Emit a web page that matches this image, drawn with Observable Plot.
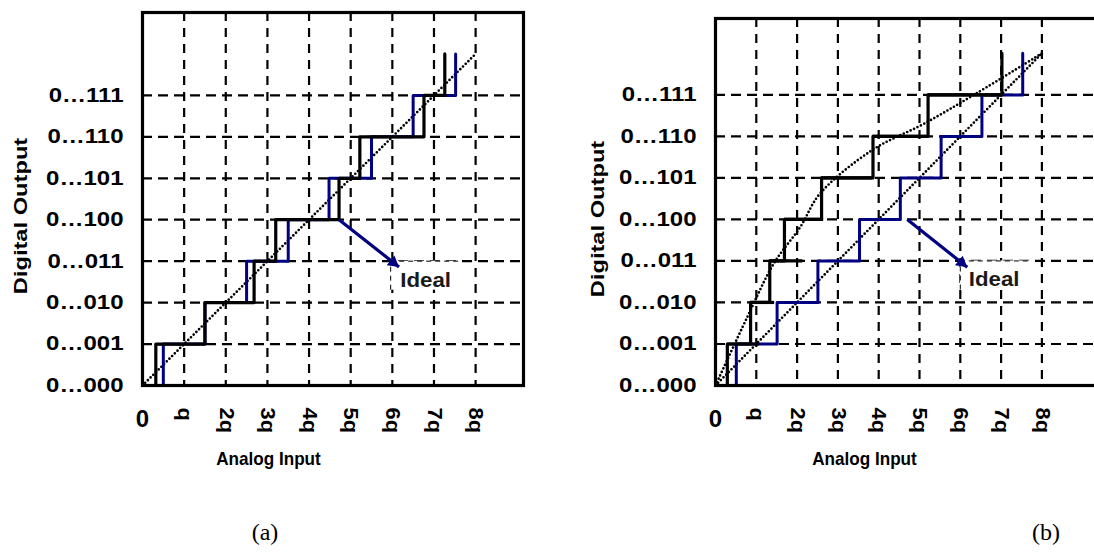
<!DOCTYPE html>
<html><head><meta charset="utf-8">
<script src="https://cdn.jsdelivr.net/npm/d3@7"></script>
<script src="https://cdn.jsdelivr.net/npm/@observablehq/plot@0.6"></script>
<style>
html,body{margin:0;padding:0;background:#fff;width:1094px;height:557px;overflow:hidden;}
#wrap{position:relative;width:1094px;height:557px;}
.panel{position:absolute;top:0;height:500px;overflow:hidden;}
.cap{position:absolute;font-family:"Liberation Serif",serif;font-size:24px;transform:translateX(-50%);}
</style></head><body>
<div id="wrap">
  <div class="panel" id="pa" style="left:0;width:547px"></div>
  <div class="panel" id="pb" style="left:547px;width:547px"></div>
  <div class="cap" style="left:265px;top:519px">(a)</div>
  <div class="cap" style="left:1046px;top:519px">(b)</div>
</div>
<script>
// ---- shared axis data ----
const codes = [0, 1, 2, 3, 4, 5, 6, 7];
const codeLabels = ["0…000", "0…001", "0…010", "0…011", "0…100", "0…101", "0…110", "0…111"];
const xTicks = [1, 2, 3, 4, 5, 6, 7, 8];
const xTickLabels = ["q", "2q", "3q", "4q", "5q", "6q", "7q", "8q"];
const xZeroLabel = ["0"];
const xTitle = ["Analog Input"];
const yTitle = ["Digital Output"];
const idealText = ["Ideal"];
const topCode = 8;

// ---- panel (a): transition points (in q) ----
const idealRiseA  = [0.50, 1.50, 2.50, 3.50, 4.48, 5.50, 6.50, 7.52];
const actualRiseA = [0.32, 1.50, 2.68, 3.20, 4.72, 5.22, 6.76, 7.26];
const diagA = [{x: 0, y: 0}, {x: 8, y: 8}];
const arrowA = [{x1: 4.72, y1: 4, x2: 6.16, y2: 2.86}];
const boxA = [{x1: 5.96, x2: 7.68, y1: 2.30, y2: 3.0}];
const labelA = [{x: 6.8, y: 2.55}];

// ---- panel (b) ----
const idealRiseB  = [0.51, 1.51, 2.51, 3.53, 4.53, 5.53, 6.53, 7.53];
const actualRiseB = [0.29, 0.86, 1.33, 1.69, 2.60, 3.86, 5.21, 7.02];
const actualTreadEndB = [1.08, 1.45, 2.14, 2.65, 3.86, 5.21, 7.02]; // end of each flat (codes 1..7)
const diagB = [{x: 0, y: 0}, {x: 8, y: 8}];
const curveBx = [0, 0.78, 1.43, 2.08, 2.56, 3.84, 5.12, 6.40, 8.0];
const curveBy = [0, 1.65, 2.94, 3.82, 4.62, 5.67, 6.31, 7.04, 8.0];
const arrowB = [{x1: 4.70, y1: 4, x2: 6.17, y2: 2.85}];
const boxB = [{x1: 6.0, x2: 7.72, y1: 2.30, y2: 3.0}];
const labelB = [{x: 6.83, y: 2.56}];

const NAVY = "#000080";
const HEIGHT = 500, MB = 115;

function stairs(rise) {
  const pts = [{x: rise[0], y: 0}];
  rise.forEach((r, i) => { pts.push({x: r, y: i}); pts.push({x: r, y: i + 1}); });
  pts.push({x: rise[rise.length - 1], y: topCode});
  return pts;
}

function stretchEl(t, factor) {
  const L = t.getComputedTextLength();
  t.setAttribute("textLength", (L * factor).toFixed(1));
  t.setAttribute("lengthAdjust", "spacingAndGlyphs");
}
function stretchGroup(svg, label, factor) {
  svg.querySelectorAll(`g[aria-label="${label}"] text`).forEach(t => stretchEl(t, factor));
}
function stretchText(svg, content, factor) {
  svg.querySelectorAll("text").forEach(t => { if (t.textContent === content) stretchEl(t, factor); });
}

function makePanel(p) {
  const {width, marginLeft, marginRight, marginTop, xMax, yMax, idealRise, actualRise, treadEnd, diag, curve, arrow, box, label, xTitleDx, yTitleX} = p;
  // pixel geometry of arrow direction (for the filled head)
  const kx = (width - marginLeft - marginRight) / xMax, ky = (HEIGHT - marginTop - MB) / yMax;
  const vx = (arrow[0].x2 - arrow[0].x1) * kx, vy = -(arrow[0].y2 - arrow[0].y1) * ky;
  const len = Math.hypot(vx, vy), ux = vx / len, uy = vy / len;
  const ang = Math.atan2(vx, -vy) * 180 / Math.PI;
  const headR = 4.6, tipOff = 2 * Math.sqrt(Math.PI * headR * headR / (3 * Math.sqrt(3)));
  const dots = {stroke: "black", strokeWidth: 2.7, strokeDasharray: "0,3.8", strokeLinecap: "round"};
  const marks = [
    Plot.ruleX(xTicks, {stroke: "black", strokeWidth: 2.2, strokeDasharray: "9,7"}),
    Plot.ruleY(codes.slice(1), {stroke: "black", strokeWidth: 2.2, strokeDasharray: "10,6"}),
    Plot.rect(box, {x1: "x1", x2: "x2", y1: "y1", y2: "y2", fill: "white"}),
    Plot.ruleY(box, {y: "y2", x1: "x1", x2: "x2", stroke: "black", strokeWidth: 1, strokeDasharray: "5,4"}),
    Plot.ruleX(box, {x: "x1", y1: "y1", y2: "y2", stroke: "black", strokeWidth: 1, strokeDasharray: "5,4"}),
    Plot.line(diag, {x: "x", y: "y", ...dots}),
  ];
  if (curve) marks.push(Plot.line(curve.x.map((x, i) => ({x, y: curve.y[i]})), {x: "x", y: "y", curve: "catmull-rom", ...dots}));
  marks.push(Plot.line(stairs(idealRise), {x: "x", y: "y", stroke: NAVY, strokeWidth: 3}));
  if (treadEnd) {
    marks.push(Plot.ruleY(treadEnd.map((e, i) => ({y: i + 1, x1: actualRise[i], x2: e})), {y: "y", x1: "x1", x2: "x2", stroke: "black", strokeWidth: 3.2}));
  }
  marks.push(
    Plot.line(stairs(actualRise), {x: "x", y: "y", stroke: "black", strokeWidth: 3.2}),
    Plot.link(arrow, {x1: "x1", y1: "y1", x2: "x2", y2: "y2", stroke: NAVY, strokeWidth: 3.2}),
    Plot.dot(arrow, {x: "x2", y: "y2", symbol: "triangle", r: headR, fill: NAVY, stroke: null, rotate: ang, dx: -ux * tipOff, dy: -uy * tipOff}),
    Plot.text(label, {x: "x", y: "y", text: () => idealText[0], fontSize: 21, fill: "#1a1a1a"}),
    Plot.frame({stroke: "black", strokeWidth: 3.2}),
    Plot.axisY(codes, {tickSize: 0, tickPadding: 19, tickFormat: i => codeLabels[i], fontSize: 20, label: null}),
    Plot.axisX(xTicks, {tickSize: 0, tickPadding: 22, tickRotate: 90, tickFormat: i => xTickLabels[i - 1], fontSize: 19.5, label: null}),
    Plot.text(xZeroLabel, {x: () => 0, y: () => 0, text: d => d, dy: 34, fontSize: 24}),
    Plot.text(yTitle, {frameAnchor: "left", textAnchor: "middle", dx: -(marginLeft - yTitleX), dy: 17, rotate: -90, fontSize: 18.5, text: d => d}),
    Plot.text(xTitle, {frameAnchor: "bottom-left", textAnchor: "middle", dx: xTitleDx, dy: 79, fontSize: 19, text: d => d})
  );
  return Plot.plot({
    width, height: HEIGHT, marginLeft, marginRight, marginTop, marginBottom: MB,
    x: {domain: [0, xMax], axis: null},
    y: {domain: [0, yMax], axis: null},
    style: {fontFamily: "'Liberation Sans', Arial, sans-serif", fontWeight: "bold", color: "black", maxWidth: "none", background: "white"},
    marks
  });
}

function finish(svg) {
  stretchGroup(svg, "y-axis tick label", 1.2);
  stretchGroup(svg, "x-axis tick label", 1.12);
  stretchText(svg, yTitle[0], 1.28);
  stretchText(svg, xTitle[0], 0.9);
  stretchText(svg, idealText[0], 1.06);
}

const a = makePanel({width: 547, marginLeft: 142, marginRight: 24, marginTop: 12, xMax: 9.15, yMax: 9.0,
  idealRise: idealRiseA, actualRise: actualRiseA, diag: diagA, arrow: arrowA, box: boxA, label: labelA, xTitleDx: 126, yTitleX: 21});
document.getElementById("pa").appendChild(a);
finish(a);

const b = makePanel({width: 586, marginLeft: 168, marginRight: 10, marginTop: 18, xMax: 10, yMax: 8.84,
  idealRise: idealRiseB, actualRise: actualRiseB, treadEnd: actualTreadEndB, diag: diagB, curve: {x: curveBx, y: curveBy},
  arrow: arrowB, box: boxB, label: labelB, xTitleDx: 149, yTitleX: 51});
document.getElementById("pb").appendChild(b);
finish(b);
</script>
</body></html>
